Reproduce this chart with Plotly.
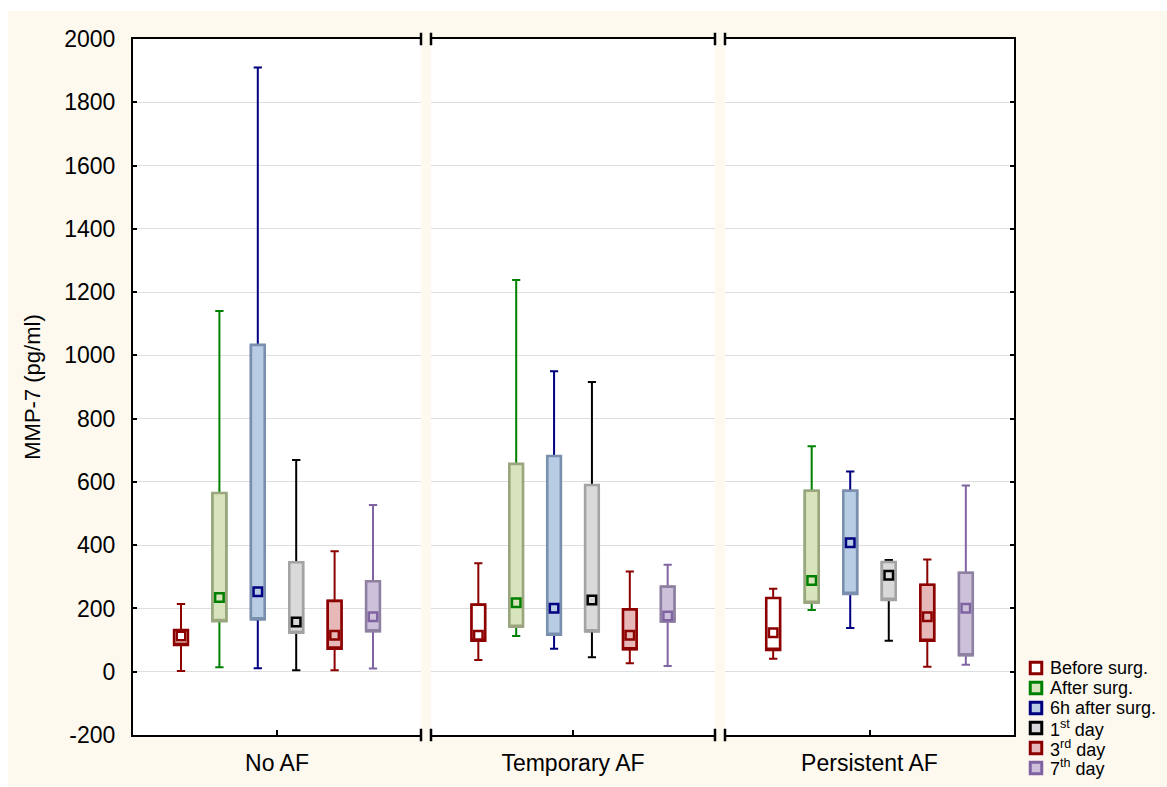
import plotly.graph_objects as go

# ---------------- data (min, q1, median, q3, max) per group ----------------
GROUPS = ["No AF", "Temporary AF", "Persistent AF"]
SERIES = ["Before surg.", "After surg.", "6h after surg.",
          "1<sup>st</sup> day", "3<sup>rd</sup> day", "7<sup>th</sup> day"]

BEFORE_SURG = [(2, 85, 113, 132, 214), (37, 98, 115, 212, 343), (41, 69, 123, 233, 262)]
AFTER_SURG = [(14, 160, 235, 565, 1140), (113, 142, 218, 657, 1238), (195, 218, 288, 572, 713)]
H6_AFTER = [(11, 166, 253, 1033, 1910), (73, 117, 201, 682, 950), (138, 246, 408, 572, 633)]
DAY_1 = [(5, 123, 157, 346, 669), (46, 128, 227, 590, 916), (98, 227, 305, 347, 353)]
DAY_3 = [(5, 73, 115, 224, 381), (27, 71, 115, 197, 317), (16, 98, 174, 275, 355)]
DAY_7 = [(10, 128, 174, 286, 527), (18, 159, 176, 269, 338), (22, 52, 201, 313, 589)]
DATA = [BEFORE_SURG, AFTER_SURG, H6_AFTER, DAY_1, DAY_3, DAY_7]

Y_TICKS = list(range(-200, 2001, 200))

# ---------------- styles ----------------
WHISKER = ["#8C0000", "#008000", "#000080", "#000000", "#8C0000", "#8064A2"]
EDGE = ["#8C0000", "#9BA67F", "#7A8FAD", "#A3A3A3", "#8C0000", "#8E80A0"]
FILL = ["#FFFFFF", "#D8E4BC", "#B8CCE4", "#D9D9D9", "#E6B8B7", "#CCC0DA"]
CREAM = "#FDF9EF"
FONT = "Arial, Liberation Sans, sans-serif"

fig = go.Figure()
axes = [("x", "y"), ("x2", "y2"), ("x3", "y3")]

for g, grp in enumerate(GROUPS):
    xa, ya = axes[g]
    for s in range(len(SERIES)):
        mn, q1, md, q3, mx = DATA[s][g]
        # whiskers (coloured)
        fig.add_trace(go.Box(
            x=[grp], q1=[q1], median=[q1], q3=[q3], lowerfence=[mn], upperfence=[mx],
            xaxis=xa, yaxis=ya, offsetgroup=str(s), line=dict(color=WHISKER[s], width=2),
            fillcolor="rgba(0,0,0,0)", whiskerwidth=0.6, showlegend=False, hoverinfo="skip"))
        # box body
        fig.add_trace(go.Box(
            x=[grp], q1=[q1], median=[q1], q3=[q3], lowerfence=[q1], upperfence=[q3],
            xaxis=xa, yaxis=ya, offsetgroup=str(s), line=dict(color=EDGE[s], width=2.6),
            fillcolor=FILL[s], whiskerwidth=0, showlegend=False))
        # median square
        fig.add_trace(go.Scatter(
            x=[grp], y=[md], mode="markers", xaxis=xa, yaxis=ya, offsetgroup=str(s),
            marker=dict(symbol="square", size=8.5, color=FILL[s],
                        line=dict(color=WHISKER[s], width=2.5)),
            showlegend=False))

W, H = 1167, 787
L, R, T, B = 133, 153, 39, 52
PW = W - L - R
PH = H - T - B
doms = [(0, 288 / PW), (298 / PW, 582 / PW), (592 / PW, 1.0)]

xcommon = dict(type="category", showline=True, linecolor="black", linewidth=2,
               mirror=True, ticks="inside", ticklen=5, tickwidth=2, tickcolor="black",
               showgrid=False, tickfont=dict(family=FONT, size=23, color="black"),
               ticklabelstandoff=6, fixedrange=True)
ycommon = dict(range=[-200, 2000], tickvals=Y_TICKS, showgrid=True,
               gridcolor="#DEDEDE", gridwidth=1, zeroline=False, fixedrange=True)

layout = dict(
    width=W, height=H, margin=dict(l=L, r=R, t=T, b=B, autoexpand=False),
    paper_bgcolor=CREAM, plot_bgcolor="white",
    boxmode="group", boxgap=0.2, boxgroupgap=0.64,
    scattermode="group", scattergap=0.2,
    showlegend=False,
)
for g in range(3):
    key = "xaxis" if g == 0 else f"xaxis{g+1}"
    layout[key] = dict(xcommon, domain=doms[g], anchor="y" if g == 0 else f"y{g+1}")

layout["yaxis"] = dict(ycommon, anchor="x", showline=True, linecolor="black", linewidth=2,
                       ticks="inside", ticklen=4, tickwidth=2, tickcolor="black",
                       ticktext=[str(v) for v in Y_TICKS], ticklabelstandoff=11,
                       tickfont=dict(family=FONT, size=23, color="black"),
                       title=dict(text="MMP-7 (pg/ml)", standoff=18,
                                  font=dict(family=FONT, size=22, color="black")))
layout["yaxis2"] = dict(ycommon, anchor="x2", matches="y", showline=False,
                        showticklabels=False, ticks="")
layout["yaxis3"] = dict(ycommon, anchor="x3", matches="y", side="right", showline=True,
                        linecolor="black", linewidth=2, ticks="inside", ticklen=4,
                        tickwidth=2, tickcolor="black", showticklabels=False)

fig.update_layout(**layout)

# white strips at the very top/left of the picture
shapes = [
    dict(type="rect", xref="paper", yref="paper", x0=-L / PW, x1=(8 - L) / PW,
         y0=-B / PH, y1=1 + T / PH, fillcolor="white", line=dict(width=0), layer="below"),
    dict(type="rect", xref="paper", yref="paper", x0=-L / PW, x1=1 + R / PW,
         y0=1 + (T - 11) / PH, y1=1 + T / PH, fillcolor="white", line=dict(width=0), layer="below"),
]
# small end bars of the panel frames
ends = [("x", [1]), ("x2", [0, 1]), ("x3", [0])]
for xa, xs in ends:
    for xv in xs:
        for yc in (0, 1):
            shapes.append(dict(type="line", xref=f"{xa} domain", yref="y domain",
                               x0=xv, x1=xv, y0=yc - 0.009, y1=yc + 0.009,
                               line=dict(color="black", width=2.5)))

# legend (icons + labels)
annotations = []
LEG_X_ICON, LEG_X_TEXT, LEG_Y0, LEG_DY, ICON = 1036, 1048, 668, 20, 11.5
for s, name in enumerate(SERIES):
    yc = LEG_Y0 + s * LEG_DY
    shapes.append(dict(type="rect", xref="paper", yref="paper",
                       x0=(LEG_X_ICON - ICON / 2 - L) / PW, x1=(LEG_X_ICON + ICON / 2 - L) / PW,
                       y0=(H - B - yc - ICON / 2) / PH, y1=(H - B - yc + ICON / 2) / PH,
                       fillcolor=FILL[s], line=dict(color=WHISKER[s], width=3)))
    annotations.append(dict(xref="paper", yref="paper", x=(LEG_X_TEXT - L) / PW,
                            y=(H - B - yc) / PH, xanchor="left", yanchor="middle",
                            text=name, showarrow=False,
                            font=dict(family=FONT, size=18, color="black")))
fig.update_layout(shapes=shapes, annotations=annotations)

fig.write_html("out.html")
